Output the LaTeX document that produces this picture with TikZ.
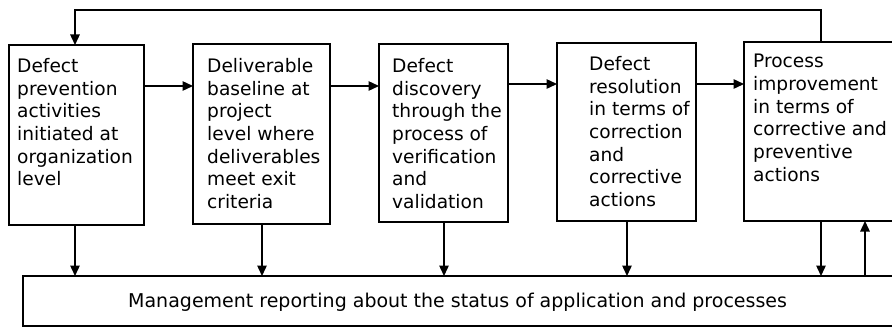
\documentclass[tikz,border=0pt]{standalone}
\usepackage{fontspec}
\setmainfont{DejaVu Sans}
\usetikzlibrary{arrows.meta}
\begin{document}
\begin{tikzpicture}[x=1bp,y=1bp,
  box/.style={draw,line width=1.4bp,inner sep=0pt,outer sep=0pt},
  txt/.style={anchor=north west,inner sep=0pt,align=left,font=\fontsize{18.6bp}{22.7bp}\selectfont},
  arr/.style={line width=1.4bp,-{Triangle[length=10.5bp,width=9.5bp]}}]
\useasboundingbox (0,0) rectangle (892,327);
% boxes
\node[box,minimum width=135bp,minimum height=180bp] (b1) at (76.5,192) {};
\node[box,minimum width=137bp,minimum height=180bp] (b2) at (261.5,193) {};
\node[box,minimum width=129bp,minimum height=178bp] (b3) at (443.5,194) {};
\node[box,minimum width=139bp,minimum height=178bp] (b4) at (626.5,195) {};
\node[box,minimum width=156bp,minimum height=179bp] (b5) at (822,195.5) {};
\node[box,minimum width=877bp,minimum height=50bp] (bot) at (461.5,26) {};
% texts
\node[txt] (t1) at (17,269) {Defect\\prevention\\activities\\initiated at\\organization\\level};
\node[txt] (t2) at (207,269) {Deliverable\\baseline at\\project\\level where\\deliverables\\meet exit\\criteria};
\node[txt] (t3) at (392,269) {Defect\\discovery\\through the\\process of\\verification\\and\\validation};
\node[txt] (t4) at (589,271) {Defect\\resolution\\in terms of\\correction\\and\\corrective\\actions};
\node[txt] (t5) at (753,273) {Process\\improvement\\in terms of\\corrective and\\preventive\\actions};
\node[anchor=base west,inner sep=0pt,font=\fontsize{19bp}{23bp}\selectfont] (tb) at (128,20) {Management reporting about the status of application and processes};
% helper coordinates
\coordinate (h1) at (0,241);
\coordinate (h2) at (0,243);
\coordinate (top) at (0,317);
\coordinate (d1) at (75,0);
\coordinate (d2) at (262,0);
\coordinate (d3) at (444,0);
\coordinate (d4) at (627,0);
\coordinate (d5) at (821,0);
\coordinate (u5) at (865,0);
% horizontal arrows
\draw[arr] (b1.east |- h1) -- (b2.west |- h1);
\draw[arr] (b2.east |- h1) -- (b3.west |- h1);
\draw[arr] (b3.east |- h2) -- (b4.west |- h2);
\draw[arr] (b4.east |- h2) -- (b5.west |- h2);
% down arrows
\draw[arr] (b1.south -| d1) -- (bot.north -| d1);
\draw[arr] (b2.south -| d2) -- (bot.north -| d2);
\draw[arr] (b3.south -| d3) -- (bot.north -| d3);
\draw[arr] (b4.south -| d4) -- (bot.north -| d4);
\draw[arr] (b5.south -| d5) -- (bot.north -| d5);
\draw[arr] (bot.north -| u5) -- (b5.south -| u5);
% feedback
\draw[arr] (b5.north -| d5) |- (top -| d1) -- (b1.north -| d1);
\end{tikzpicture}
\end{document}
